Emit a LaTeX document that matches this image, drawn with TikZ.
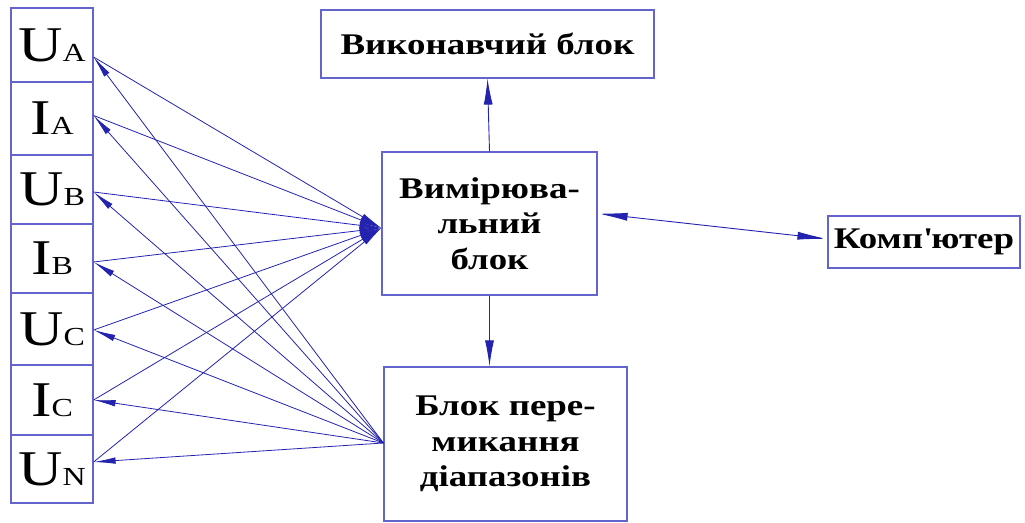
\documentclass[tikz,border=0pt]{standalone}
\usepackage{fontspec}
\setmainfont{Liberation Serif}[FakeStretch=1.23]
\usetikzlibrary{arrows.meta}
\definecolor{ln}{RGB}{35,35,175}
\definecolor{bx}{RGB}{100,100,205}
\begin{document}
\begin{tikzpicture}[x=1pt,y=-1pt,
  blockbox/.style={draw=bx,line width=1.2pt,inner sep=0pt,align=center,
    font=\bfseries\fontsize{30}{35.5}\selectfont},
  cell/.style={draw=bx,line width=1.2pt,minimum width=82pt,inner sep=0pt,
    font=\fontsize{50}{50}\selectfont},
  conn/.style={draw=ln,line width=0.8pt,-{Latex[length=22pt,width=6.5pt]}},
  bigarrow/.style={draw=ln,line width=0.9pt,-{Latex[length=26pt,width=9pt]}},
]
\useasboundingbox (0,0) rectangle (1025,522);
\newcommand{\lbl}[2]{#1{\fontsize{26}{26}\selectfont #2}}
% left cells
\node[cell,minimum height=74pt] (ua) at (52,45) {\lbl{U}{A}};
\node[cell,minimum height=73pt] (ia) at (52,118.5) {\lbl{I}{A}};
\node[cell,minimum height=69pt] (ub) at (52,189.5) {\lbl{U}{B}};
\node[cell,minimum height=69pt] (ib) at (52,258.5) {\lbl{I}{B}};
\node[cell,minimum height=72pt] (uc) at (52,329) {\lbl{U}{C}};
\node[cell,minimum height=70pt] (ic) at (52,400) {\lbl{I}{C}};
\node[cell,minimum height=68pt] (un) at (52,469) {\lbl{U}{N}};
% blocks
\node[blockbox,minimum width=333pt,minimum height=68pt] (vik) at (487.5,44) {Виконавчий блок};
\node[blockbox,minimum width=215pt,minimum height=143pt] (vym) at (489.5,223.5) {Вимірюва-\\льний\\блок};
\node[blockbox,minimum width=243pt,minimum height=154pt] (blk) at (505.5,444) {Блок пере-\\микання\\діапазонів};
\node[blockbox,minimum width=192pt,minimum height=52pt] (komp) at (924,242) {Комп\textquotesingle ютер};
% connection points
\coordinate (pua) at ([yshift=-12pt]ua.east);
\coordinate (pia) at ([yshift=3pt]ia.east);
\coordinate (pub) at ([yshift=-2.5pt]ub.east);
\coordinate (pib) at ([yshift=-3.5pt]ib.east);
\coordinate (puc) at ([yshift=-1pt]uc.east);
\coordinate (pic) at (ic.east);
\coordinate (pun) at ([yshift=7pt]un.east);
\coordinate (vin) at ([yshift=-4.5pt]vym.west);
\coordinate (bin) at ([yshift=1pt]blk.west);
% inputs to measuring block
\foreach \p in {pua,pia,pub,pib,puc,pic,pun}
  \draw[conn] (\p) -- (vin);
% range switching to inputs
\foreach \p in {pua,pia,pub,pib,puc,pic,pun}
  \draw[conn] (bin) -- (\p);
% vertical arrows
\draw[bigarrow] (vym.north) -- (vik.south);
\draw[bigarrow] (vym.south) -- (vym.south |- blk.north);
% computer link
\draw[bigarrow,{Latex[length=30pt,width=8pt]}-{Latex[length=30pt,width=8pt]}] ([yshift=10pt]vym.east) -- ([yshift=3pt]komp.west);
\end{tikzpicture}
\end{document}
